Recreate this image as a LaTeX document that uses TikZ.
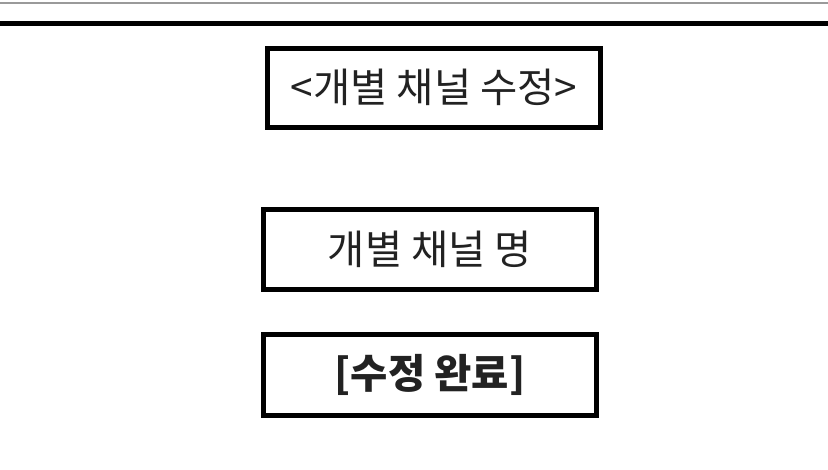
\documentclass[tikz,border=0pt]{standalone}
\usepackage{fontspec}
\setmainfont{Noto Sans CJK KR}
\usepackage{xcolor}
\usetikzlibrary{positioning}
\definecolor{textdark}{HTML}{222222}
\definecolor{rulegray}{HTML}{9A9A9A}

\begin{document}
\begin{tikzpicture}[
  x=1pt, y=1pt,
  font=\fontsize{40.5}{44}\selectfont,
  frame box/.style={draw=black, line width=5pt, fill=white, text=textdark, minimum width=333pt, minimum height=79pt, inner sep=0pt},
  top rule/.style={draw=rulegray, line width=2pt},
  bar rule/.style={draw=black, line width=5.5pt}
]
\useasboundingbox (0,0) rectangle (828,-469);
% ---------- header rules ----------
\coordinate (rl) at (0,-2.7);
\coordinate (rr) at (828,-2.7);
\coordinate (bl) at (0,-23.5);
\coordinate (br) at (828,-23.5);
\draw[top rule] (rl) -- (rr);
\draw[bar rule] (bl) -- (br);
% ---------- boxes ----------
\node[frame box] (title) at (434,-87.5) {<개별 채널 수정>};
\node[frame box, minimum height=80pt, below=77pt of title, xshift=-4pt] (chname) {개별 채널 명};
\node[frame box, minimum height=81pt, below=40pt of chname, font=\fontsize{40.5}{44}\selectfont\bfseries] (done) {[수정 완료]};
\end{tikzpicture}
\end{document}
